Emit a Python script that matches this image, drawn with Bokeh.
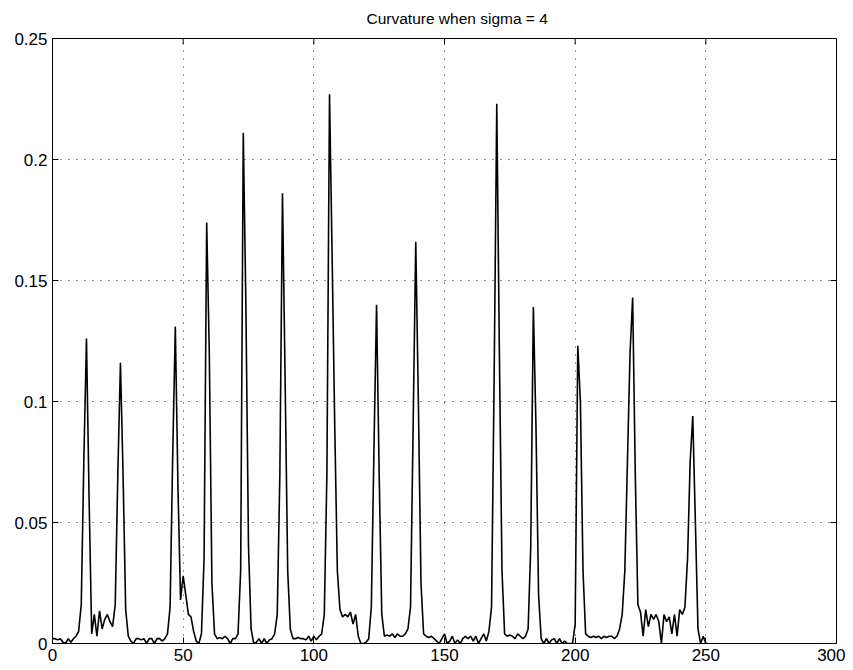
import math
from bokeh.plotting import figure
from bokeh.models import FixedTicker, Range1d
from bokeh.embed import file_html
from bokeh.resources import INLINE

# ---- data ----
curvature = [
    0.002, 0.002, 0.0015, 0.002, 0.0005, 0.0, 0.002, 0.0005, 0.002, 0.003,      # 0-9
    0.005, 0.016, 0.076, 0.126, 0.06, 0.004, 0.012, 0.003, 0.0135, 0.006,       # 10-19
    0.01, 0.012, 0.009, 0.007, 0.016, 0.07, 0.116, 0.07, 0.014, 0.003,          # 20-29
    0.001, 0.0, 0.002, 0.002, 0.0015, 0.002, 0.0, 0.002, 0.002, 0.0,            # 30-39
    0.002, 0.002, 0.001, 0.002, 0.004, 0.015, 0.078, 0.131, 0.065, 0.018,       # 40-49
    0.028, 0.02, 0.012, 0.011, 0.005, 0.001, 0.0, 0.004, 0.035, 0.174,          # 50-59
    0.12, 0.025, 0.004, 0.002, 0.0025, 0.002, 0.003, 0.002, 0.0, 0.002,         # 60-69
    0.002, 0.004, 0.03, 0.211, 0.14, 0.04, 0.006, 0.0, 0.0005, 0.002,           # 70-79
    0.0, 0.002, 0.0, 0.0015, 0.002, 0.004, 0.012, 0.07, 0.186, 0.11,            # 80-89
    0.03, 0.006, 0.002, 0.002, 0.0025, 0.002, 0.002, 0.0015, 0.003, 0.001,      # 90-99
    0.003, 0.0015, 0.003, 0.004, 0.012, 0.07, 0.227, 0.16, 0.09, 0.03,          # 100-109
    0.014, 0.011, 0.012, 0.011, 0.013, 0.008, 0.012, 0.003, 0.0, 0.0,           # 110-119
    0.0005, 0.002, 0.015, 0.08, 0.14, 0.07, 0.012, 0.003, 0.0035, 0.003,        # 120-129
    0.004, 0.0025, 0.004, 0.003, 0.003, 0.004, 0.006, 0.015, 0.09, 0.166,       # 130-139
    0.1, 0.025, 0.004, 0.003, 0.0025, 0.003, 0.002, 0.001, 0.0, 0.002,          # 140-149
    0.004, 0.0, 0.001, 0.003, 0.0, 0.0015, 0.0, 0.002, 0.003, 0.002,            # 150-159
    0.003, 0.001, 0.003, 0.0, 0.002, 0.004, 0.001, 0.005, 0.015, 0.11,          # 160-169
    0.223, 0.12, 0.03, 0.004, 0.003, 0.0035, 0.003, 0.002, 0.004, 0.003,        # 170-179
    0.002, 0.003, 0.006, 0.04, 0.139, 0.09, 0.02, 0.002, 0.0, 0.002,            # 180-189
    0.0, 0.0015, 0.002, 0.0, 0.002, 0.0, 0.001, 0.0, 0.0, 0.0,                  # 190-199
    0.008, 0.123, 0.1, 0.03, 0.004, 0.003, 0.0025, 0.003, 0.0025, 0.003,        # 200-209
    0.002, 0.003, 0.0025, 0.003, 0.003, 0.002, 0.003, 0.006, 0.012, 0.03,       # 210-219
    0.075, 0.12, 0.143, 0.07, 0.016, 0.013, 0.003, 0.014, 0.007, 0.012,         # 220-229
    0.01, 0.012, 0.009, 0.0, 0.012, 0.009, 0.011, 0.004, 0.012, 0.003,          # 230-239
    0.014, 0.012, 0.015, 0.035, 0.075, 0.094, 0.05, 0.006, 0.0, 0.003,          # 240-249
    0.0, 0.0,                                                                    # 250-251
]
sample_index = list(range(len(curvature)))

x_ticks = [0, 50, 100, 150, 200, 250, 300]
x_tick_labels = ["0", "50", "100", "150", "200", "250", "300"]
y_ticks = [0, 0.05, 0.1, 0.15, 0.2, 0.25]
y_tick_labels = ["0", "0.05", "0.1", "0.15", "0.2", "0.25"]
title_text = "Curvature when sigma = 4"

FONT = "Liberation Sans"
X_MIN, X_MAX = x_ticks[0], x_ticks[-1]
Y_MIN, Y_MAX = y_ticks[0], y_ticks[-1]

p = figure(width=845, height=668, output_backend="svg", toolbar_location=None,
           x_range=Range1d(X_MIN, X_MAX), y_range=Range1d(Y_MIN, Y_MAX),
           min_border_left=52, min_border_right=9, min_border_top=37,
           min_border_bottom=25)

xax = p.below[0]
yax = p.left[0]

p.title.text = title_text
p.title.align = "left"
p.title.offset = 314
p.title.vertical_align = "top"
p.title.standoff = 19
p.title.text_font = FONT
p.title.text_font_size = "15.5px"
p.title.text_font_style = "normal"
p.title.text_color = "black"

p.background_fill_color = "white"
p.border_fill_color = "white"
p.outline_line_color = "black"
p.outline_line_width = 1

def style_axis(ax):
    ax.axis_line_color = "black"
    ax.major_tick_line_color = "black"
    ax.major_tick_in = 6
    ax.major_tick_out = 0
    ax.minor_tick_line_color = None
    ax.major_label_text_font = FONT
    ax.major_label_text_color = "black"
    ax.major_label_text_font_size = "17px"
    ax.major_label_standoff = 5

xax.ticker = FixedTicker(ticks=x_ticks)
xax.major_label_overrides = {t: s for t, s in zip(x_ticks, x_tick_labels)}
style_axis(xax)

yax.ticker = FixedTicker(ticks=y_ticks)
yax.major_label_overrides = {t: s for t, s in zip(y_ticks, y_tick_labels)}
style_axis(yax)

# inward ticks on the top and right edges of the box
p.ray(x=x_ticks, y=[Y_MAX] * len(x_ticks), length=6, length_units="screen",
      angle=-math.pi / 2, line_color="black", line_width=1)
p.ray(x=[X_MAX] * len(y_ticks), y=y_ticks, length=6, length_units="screen",
      angle=math.pi, line_color="black", line_width=1)

p.xgrid.ticker = FixedTicker(ticks=x_ticks)
p.ygrid.ticker = FixedTicker(ticks=y_ticks)
for g in (p.xgrid, p.ygrid):
    g.grid_line_color = "#222222"
    g.grid_line_width = 1
    g.grid_line_dash = "1 7"

p.line(sample_index, curvature, line_color="black", line_width=1.6)

open("out.html", "w").write(file_html(p, INLINE))
